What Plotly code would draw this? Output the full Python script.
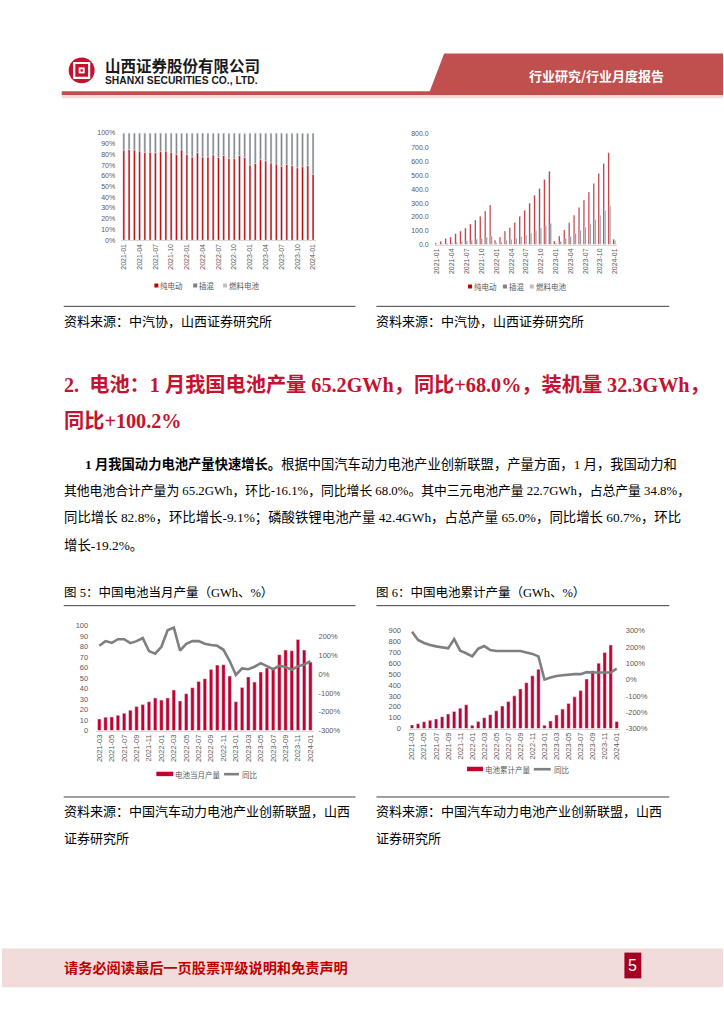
import plotly.graph_objects as go

W, H = 724, 1024


def px(x):
    return x / W


def py(y):
    return 1 - y / H


# ---------------- data ----------------
months_37 = ["2021-01", "2021-02", "2021-03", "2021-04", "2021-05", "2021-06", "2021-07", "2021-08",
             "2021-09", "2021-10", "2021-11", "2021-12", "2022-01", "2022-02", "2022-03", "2022-04",
             "2022-05", "2022-06", "2022-07", "2022-08", "2022-09", "2022-10", "2022-11", "2022-12",
             "2023-01", "2023-02", "2023-03", "2023-04", "2023-05", "2023-06", "2023-07", "2023-08",
             "2023-09", "2023-10", "2023-11", "2023-12", "2024-01"]
ticks_37 = ["2021-01", "2021-04", "2021-07", "2021-10", "2022-01", "2022-04", "2022-07", "2022-10",
            "2023-01", "2023-04", "2023-07", "2023-10", "2024-01"]

# 新能源车销量结构（%）
ev_share = [84.0, 84.5, 84.0, 83.0, 82.0, 82.0, 81.5, 82.5, 83.0, 82.0, 80.0, 84.0, 80.0, 77.5, 81.5,
            77.5, 77.5, 79.5, 77.0, 79.0, 76.0, 76.0, 79.0, 77.0, 70.0, 71.5, 75.0, 74.0, 72.0, 71.0,
            69.0, 70.5, 69.5, 67.5, 68.5, 69.5, 61.5]
phev_share = [15.9, 15.4, 15.9, 16.9, 17.9, 17.8, 18.4, 17.4, 16.9, 17.9, 19.8, 15.7, 19.9, 22.4, 18.3,
              22.4, 22.4, 20.3, 22.8, 20.8, 23.7, 23.8, 20.7, 22.5, 29.9, 28.3, 24.8, 25.8, 27.8, 28.8,
              30.8, 29.2, 30.3, 32.3, 31.2, 30.0, 38.4]
fcv_share = [0.1, 0.1, 0.1, 0.1, 0.1, 0.2, 0.1, 0.1, 0.1, 0.1, 0.2, 0.3, 0.1, 0.1, 0.2, 0.1, 0.1, 0.2,
             0.2, 0.2, 0.3, 0.2, 0.3, 0.5, 0.1, 0.2, 0.2, 0.2, 0.2, 0.2, 0.2, 0.3, 0.2, 0.2, 0.3, 0.5, 0.1]

# 累计销量（万辆）
ev_cum = [12, 24, 43, 55, 79, 98, 119, 148, 177, 205, 243, 286, 31, 55, 98, 122, 160, 205, 248, 298,
          356, 406, 470, 530, 26, 62, 105, 157, 212, 267, 322, 380, 442, 513, 585, 663, 38]
phev_cum = [2.8, 5.5, 9.5, 13, 17.5, 22, 26.5, 32, 38, 44, 52, 60, 12, 20, 32, 36, 46, 58, 69, 83,
            101, 119, 135, 152, 10, 22, 45, 59, 80, 103, 125, 151, 181, 212, 246, 280, 29]
fcv_cum = [0.01, 0.02, 0.03, 0.04, 0.05, 0.06, 0.07, 0.08, 0.09, 0.1, 0.13, 0.16, 0.01, 0.03, 0.05,
           0.06, 0.07, 0.09, 0.12, 0.14, 0.17, 0.2, 0.24, 0.3, 0.01, 0.03, 0.06, 0.1, 0.14, 0.19, 0.24,
           0.28, 0.33, 0.38, 0.45, 0.56, 0.03]

months_35 = months_37[2:]
ticks_35 = ["2021-03", "2021-05", "2021-07", "2021-09", "2021-11", "2022-01", "2022-03", "2022-05",
            "2022-07", "2022-09", "2022-11", "2023-01", "2023-03", "2023-05", "2023-07", "2023-09",
            "2023-11", "2024-01"]

batt_month = [11.0, 12.7, 13.0, 14.6, 16.5, 19.3, 22.8, 24.7, 27.5, 31.0, 29.0, 31.0, 38.6, 28.2, 35.1,
              40.8, 46.8, 49.4, 58.2, 62.3, 62.7, 51.9, 27.5, 41.1, 51.0, 46.2, 55.7, 59.5, 58.9, 72.2,
              76.6, 76.0, 86.7, 76.6, 65.2]
batt_month_yoy = [150, 175, 166, 185, 185, 164, 175, 191, 122, 108, 145, 233, 247, 125, 161, 175, 175,
                  161, 154, 150, 129, 69, -5, 30, 26, 39, 58, 44, 26, 44, 37, 23, 41, 51, 68]
batt_cum = [33, 45, 63, 76, 88, 109, 134, 158, 188, 219, 30, 64, 100, 128, 164, 207, 249, 301, 365, 422,
            486, 545, 30, 70, 125, 179, 231, 292, 350, 456, 532, 602, 699, 769, 65]
batt_cum_yoy = [294, 243, 225, 212, 204, 197, 192, 249, 178, 162, 143, 190, 206, 182, 176, 176, 176, 172,
                176, 166, 158, 143, 0, 13, 23, 27, 32, 34, 34, 46, 44, 44, 44, 44, 68]

yoy_ticks_3 = [-300, -200, -100, 0, 100, 200]
yoy_ticks_4 = [-300, -200, -100, 0, 100, 200, 300]

RED = "#C00000"
DGRAY = "#7F7F7F"
LGRAY = "#BFBFBF"
CRIMSON = "#C4002F"
TICKC = "#595959"
TF = "Liberation Sans, Noto Sans CJK SC"
TXT = "Liberation Serif, Noto Sans CJK SC"

fig = go.Figure()

# chart 1 stacked share
fig.add_trace(go.Bar(x=months_37, y=ev_share, marker_color=RED, width=0.36, offset=-0.18,
                     xaxis="x", yaxis="y", showlegend=False, name="纯电动"))
fig.add_trace(go.Bar(x=months_37, y=phev_share, base=ev_share, marker_color=DGRAY, width=0.36,
                     offset=-0.18, xaxis="x", yaxis="y", showlegend=False, name="插混"))
fig.add_trace(go.Bar(x=months_37, y=fcv_share, base=[a + b for a, b in zip(ev_share, phev_share)],
                     marker_color=LGRAY, width=0.36, offset=-0.18, xaxis="x", yaxis="y",
                     showlegend=False, name="燃料电池"))

# chart 2 grouped cumulative
for vals, col, off, nm in [(ev_cum, RED, -0.42, "纯电动"), (phev_cum, DGRAY, -0.14, "插混"),
                           (fcv_cum, LGRAY, 0.14, "燃料电池")]:
    fig.add_trace(go.Bar(x=months_37, y=vals, marker_color=col, width=0.28, offset=off,
                         xaxis="x2", yaxis="y2", showlegend=False, name=nm))

# chart 3
fig.add_trace(go.Bar(x=months_35, y=batt_month, marker_color=CRIMSON, width=0.56, offset=-0.28,
                     xaxis="x3", yaxis="y3", showlegend=False, name="电池当月产量"))
fig.add_trace(go.Scatter(x=months_35, y=batt_month_yoy, mode="lines", line=dict(color=DGRAY, width=2.6),
                         xaxis="x3", yaxis="y5", showlegend=False, name="同比"))
# chart 4
fig.add_trace(go.Bar(x=months_35, y=batt_cum, marker_color=CRIMSON, width=0.56, offset=-0.28,
                     xaxis="x4", yaxis="y4", showlegend=False, name="电池累计产量"))
fig.add_trace(go.Scatter(x=months_35, y=batt_cum_yoy, mode="lines", line=dict(color=DGRAY, width=2.6),
                         xaxis="x4", yaxis="y6", showlegend=False, name="同比"))

tickfont = dict(family=TF, size=7, color=TICKC)
tickfont2 = dict(family=TF, size=7.5, color=TICKC)
xcommon = dict(type="category", showgrid=False, zeroline=False, tickangle=-90, tickfont=tickfont,
               ticks="", showline=True, linecolor="#D9D9D9", linewidth=1)
ycommon = dict(showgrid=False, zeroline=False, tickfont=tickfont, ticks="", showline=False)

layout = dict(
    width=W, height=H, margin=dict(l=0, r=0, t=0, b=0), autosize=False,
    paper_bgcolor="white", plot_bgcolor="rgba(0,0,0,0)", barmode="overlay",
    xaxis=dict(xcommon, domain=[px(119.7), px(315)], anchor="y", tickvals=ticks_37,
               range=[-0.5, 36.5]),
    yaxis=dict(ycommon, domain=[py(238.3), py(130)], anchor="x", range=[0, 100], dtick=10,
               ticksuffix="%", ticklabelstandoff=5),
    xaxis2=dict(xcommon, domain=[px(434.5), px(618)], anchor="y2", tickvals=ticks_37,
                range=[-0.5, 36.5]),
    yaxis2=dict(ycommon, domain=[py(242.7), py(131)], anchor="x2", range=[0, 800], dtick=100,
                tickformat=".1f", ticklabelstandoff=5),
    xaxis3=dict(xcommon, domain=[px(94.6), px(312.8)], anchor="y3", tickvals=ticks_35,
                range=[-0.5, 34.5], tickfont=tickfont2),
    yaxis3=dict(ycommon, domain=[py(733), py(627)], anchor="x3", range=[0, 100], dtick=10,
                ticklabelstandoff=7, tickfont=tickfont2),
    yaxis5=dict(ycommon, overlaying="y3", side="right", anchor="x3", range=[-300, 258],
                tickmode="array", tickvals=yoy_ticks_3, ticktext=[f"{v}%" for v in yoy_ticks_3],
                ticklabelstandoff=4, tickfont=tickfont2),
    xaxis4=dict(xcommon, domain=[px(408.7), px(620.3)], anchor="y4", tickvals=ticks_35,
                range=[-0.5, 34.5], tickfont=tickfont2),
    yaxis4=dict(ycommon, domain=[py(731), py(632.3)], anchor="x4", range=[0, 900], dtick=100,
                ticklabelstandoff=7, tickfont=tickfont2),
    yaxis6=dict(ycommon, overlaying="y4", side="right", anchor="x4", range=[-300, 300],
                tickmode="array", tickvals=yoy_ticks_4, ticktext=[f"{v}%" for v in yoy_ticks_4],
                ticklabelstandoff=5, tickfont=tickfont2),
)
fig.update_layout(**layout)

shapes = []
ann = []


def rect(x0, y0, x1, y1, color, line=None):
    shapes.append(dict(type="rect", xref="paper", yref="paper", x0=px(x0), x1=px(x1), y0=py(y1), y1=py(y0),
                       fillcolor=color, line=dict(width=0) if line is None else line, layer="above"))


def hline(x0, x1, y, color, w=1):
    shapes.append(dict(type="line", xref="paper", yref="paper", x0=px(x0), x1=px(x1), y0=py(y), y1=py(y),
                       line=dict(color=color, width=w)))


def text(x, y, s, size, color="#000000", family=TXT, xanchor="left"):
    ann.append(dict(xref="paper", yref="paper", x=px(x - 2 if xanchor == "left" else x), y=py(y), text=s,
                    showarrow=False, xanchor=xanchor, yanchor="middle",
                    font=dict(size=size, color=color, family=family)))


# header
path = "M {} {} L {} {} L {} {} L {} {} Z".format(px(428), py(92), px(444), py(50), px(724), py(50),
                                                  px(724), py(92))
shapes.append(dict(type="path", xref="paper", yref="paper", path=path, fillcolor="#C0504D",
                   line=dict(width=0)))
rect(60, 88, 724, 92, "#C0504D")
rect(60, 92, 724, 95, "#F2DCDB")
shapes.append(dict(type="circle", xref="paper", yref="paper", x0=px(67), x1=px(93), y0=py(80), y1=py(54),
                   fillcolor="#C8102E", line=dict(width=0)))
rect(72.5, 59.5, 87.5, 74.5, "rgba(0,0,0,0)", line=dict(color="white", width=2.2))
rect(77, 64, 83, 70, "white")
rect(78.8, 65.8, 81.2, 68.2, "#C8102E")
text(103, 62, "<b>山西证券股份有限公司</b>", 15.5, "#1a1a1a", "Noto Sans CJK SC")
text(103, 77.5, "<b>SHANXI SECURITIES CO., LTD.</b>", 10.3, "#1a1a1a", "Liberation Sans")
text(597, 72, "<b>行业研究/行业月度报告</b>", 13, "white", "Noto Sans CJK SC", xanchor="center")

# legends chart1/2
LF = "Noto Sans CJK SC"
LS = 7.5
for sx, col, label in [(153, RED, "纯电动"), (192, DGRAY, "插混"), (222, LGRAY, "燃料电池")]:
    rect(sx, 282, sx + 4, 286, col)
    text(sx + 6, 284, label, LS, TICKC, LF)
for sx, col, label in [(468, RED, "纯电动"), (503, DGRAY, "插混"), (530, LGRAY, "燃料电池")]:
    rect(sx, 283, sx + 4, 287, col)
    text(sx + 6, 285, label, LS, TICKC, LF)
# legends chart3/4
rect(155, 774.5, 172, 779, CRIMSON)
text(174, 777, "电池当月产量", LS, TICKC, LF)
hline(223, 238, 777, DGRAY, 2.6)
text(241, 777, "同比", LS, TICKC, LF)
rect(467, 769.5, 483, 774, CRIMSON)
text(485, 772, "电池累计产量", LS, TICKC, LF)
hline(534, 551, 772, DGRAY, 2.6)
text(554, 772, "同比", LS, TICKC, LF)

# separators & sources
hline(62, 355, 305, "#404040", 1)
hline(376, 670, 305, "#404040", 1)
text(62, 320, "资料来源：中汽协，山西证券研究所", 13, "#000", TXT)
text(376, 320, "资料来源：中汽协，山西证券研究所", 13, "#000", TXT)

HEAD = "#C4122F"
text(62, 384, "<b>2.  电池：1 月我国电池产量 65.2GWh，同比+68.0%，装机量 32.3GWh，</b>", 20.2, HEAD, TXT)
text(62, 421, "<b>同比+100.2%</b>", 20.2, HEAD, TXT)

text(83, 464, "<b>1 月我国动力电池产量快速增长。</b>根据中国汽车动力电池产业创新联盟，产量方面，1 月，我国动力和", 13.3)
text(62, 491, "其他电池合计产量为 65.2GWh，环比-16.1%，同比增长 68.0%。其中三元电池产量 22.7GWh，占总产量 34.8%，", 12.8)
text(62, 519, "同比增长 82.8%，环比增长-9.1%；磷酸铁锂电池产量 42.4GWh，占总产量 65.0%，同比增长 60.7%，环比", 13.4)
text(62, 546, "增长-19.2%。", 13.4)

text(62, 594, "图 5：中国电池当月产量（GWh、%）", 12.5)
text(376, 594, "图 6：中国电池累计产量（GWh、%）", 12.5)
hline(62, 355, 607, "#404040", 1)
hline(376, 670, 607, "#404040", 1)

hline(62, 355, 800, "#404040", 1)
hline(376, 670, 800, "#404040", 1)
text(62, 815, "资料来源：中国汽车动力电池产业创新联盟，山西", 13)
text(62, 842, "证券研究所", 13)
text(376, 815, "资料来源：中国汽车动力电池产业创新联盟，山西", 13)
text(376, 842, "证券研究所", 13)

# footer
rect(0, 953, 724, 992, "#F2DCDB")
text(62, 972, "<b>请务必阅读最后一页股票评级说明和免责声明</b>", 14.2, "#C00000", "Noto Sans CJK SC")
rect(625, 957, 642, 983, "#A50021")
text(633.5, 970, "5", 16, "white", "Liberation Sans Narrow, Liberation Sans", xanchor="center")

fig.update_layout(shapes=shapes, annotations=ann)
fig.write_html(
    "out.html",
    config={"displayModeBar": False, "staticPlot": True},
    post_script="document.body.style.margin='0';document.body.style.padding='0';"
                "document.body.style.overflow='hidden';document.documentElement.style.overflow='hidden';",
)
